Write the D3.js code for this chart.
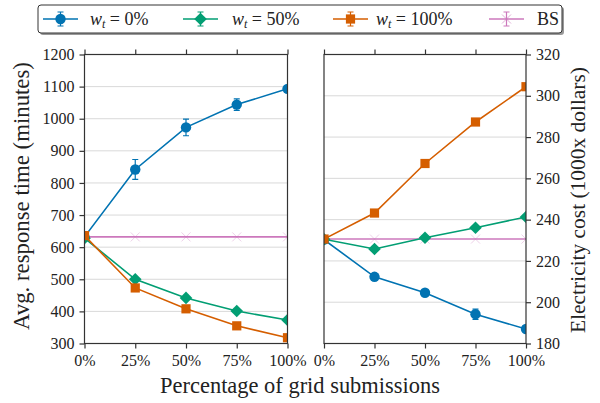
<!DOCTYPE html>
<html><head><meta charset="utf-8">
<script src="https://cdn.jsdelivr.net/npm/d3@7"></script>
<style>body{margin:0;background:#fff}svg{display:block}text{font-family:"Liberation Serif","DejaVu Serif",serif;fill:#222}</style>
</head><body><svg id="c" width="600" height="403"></svg>
<script>
const categories = ["0%","25%","50%","75%","100%"];
const xValues = [0,25,50,75,100];
// Left: avg response time (minutes)
const respW0 = [632, 842, 973, 1044, 1093];
const respW0Err = [6, 31, 26, 18, 8];
const respW50 = [628, 500, 442, 401, 373];
const respW50Err = [3, 4, 4, 4, 4];
const respW100 = [636, 473, 408, 355, 318];
const respW100Err = [3, 4, 4, 4, 3];
const respBS = [632, 632, 632, 632, 632];
// Right: electricity cost (1000x dollars)
const costW0 = [230.3, 212.3, 204.6, 194.2, 187.0];
const costW0Err = [0.5, 1.0, 1.0, 2.5, 1.2];
const costW50 = [230.5, 225.8, 231.2, 236.1, 241.3];
const costW50Err = [0.5, 0.8, 0.8, 0.8, 0.8];
const costW100 = [230.6, 243.2, 267.2, 287.3, 304.4];
const costW100Err = [0.5, 0.8, 0.8, 0.8, 0.8];
const costBS = [230.6, 230.6, 230.6, 230.6, 230.6];
const leftTicks = [300,400,500,600,700,800,900,1000,1100,1200];
const rightTicks = [180,200,220,240,260,280,300,320];

const colors = {w0:"#0173b2", w50:"#029e73", w100:"#d55e00", bs:"#cc78bc"};
const svg = d3.select("#c");
const axisColor = "#333";
const FONT = "Liberation Serif, DejaVu Serif, serif";

function fitText(sel, target, size){
  sel.style("font-size", size+"px");
  const w = sel.node().getComputedTextLength();
  sel.style("font-size", (size*target/w).toFixed(2)+"px");
}

function marker(g, type, x, y, color){
  if(type==="circle") g.append("circle").attr("cx",x).attr("cy",y).attr("r",5.2).attr("fill",color);
  else if(type==="diamond") g.append("path").attr("d",`M${x},${y-6.3}L${x+6.3},${y}L${x},${y+6.3}L${x-6.3},${y}Z`).attr("fill",color);
  else if(type==="square") g.append("rect").attr("x",x-4.6).attr("y",y-4.6).attr("width",9.2).attr("height",9.2).attr("fill",color);
  else if(type==="x") g.append("path").attr("d",`M${x-4.5},${y-4.5}L${x+4.5},${y+4.5}M${x-4.5},${y+4.5}L${x+4.5},${y-4.5}`).attr("stroke",color).attr("stroke-width",1).attr("opacity",0.35).attr("fill","none");
}

function panel(id, x0, x1, y0, y1, domain, ticks, series, side){
  const x = d3.scaleLinear().domain([0,100]).range([x0,x1]);
  const y = d3.scaleLinear().domain(domain).range([y1,y0]);
  const g = svg.append("g");
  g.append("g").selectAll("line").data(ticks).join("line")
    .attr("x1",x0).attr("x2",x1).attr("y1",d=>y(d)).attr("y2",d=>y(d))
    .attr("stroke","#d9d9d9").attr("stroke-width",1);
  svg.append("clipPath").attr("id","clip"+id).append("rect")
    .attr("x",x0).attr("y",y0).attr("width",x1-x0).attr("height",y1-y0);
  const pg = g.append("g").attr("clip-path",`url(#clip${id})`);
  const line = d3.line().x((d,i)=>x(xValues[i])).y(d=>y(d));
  series.forEach(s=>{
    pg.append("path").datum(s.values).attr("d",line).attr("fill","none")
      .attr("stroke",s.color).attr("stroke-width",1.6);
    s.values.forEach((v,i)=>{
      if(s.err){
        const e = s.err[i], cx = x(xValues[i]);
        pg.append("path").attr("d",`M${cx},${y(v-e)}V${y(v+e)}M${cx-3},${y(v-e)}H${cx+3}M${cx-3},${y(v+e)}H${cx+3}`)
          .attr("stroke",s.color).attr("stroke-width",1.2).attr("fill","none");
      }
      marker(pg, s.marker, x(xValues[i]), y(v), s.color);
    });
  });
  g.append("rect").attr("x",x0).attr("y",y0).attr("width",x1-x0).attr("height",y1-y0)
    .attr("fill","none").attr("stroke",axisColor).attr("stroke-width",1.2);
  const xb = d3.axisBottom(x).tickValues(xValues).tickFormat((d,i)=>categories[i]).tickSize(5).tickPadding(6);
  const gb = svg.append("g").attr("transform",`translate(0,${y1})`).call(xb);
  const xt = d3.axisTop(x).tickValues(xValues).tickFormat("").tickSize(5);
  const gt = svg.append("g").attr("transform",`translate(0,${y0})`).call(xt);
  let gy;
  const fmt = d3.format("d");
  if(side==="left"){
    gy = svg.append("g").attr("transform",`translate(${x0},0)`).call(d3.axisLeft(y).tickValues(ticks).tickFormat(fmt).tickSize(5).tickPadding(5));
  } else {
    gy = svg.append("g").attr("transform",`translate(${x1},0)`).call(d3.axisRight(y).tickValues(ticks).tickFormat(fmt).tickSize(5).tickPadding(5));
  }
  [gb,gt,gy].forEach(a=>{
    a.attr("font-family", FONT).attr("font-size", 16);
    a.select(".domain").remove();
    a.selectAll(".tick line").attr("stroke",axisColor).attr("stroke-width",1.2);
    a.selectAll(".tick text").attr("font-family", FONT).attr("font-size", 16).attr("fill","#222");
  });
  return {x,y};
}

panel("L", 84.5, 287.5, 54.5, 343.5, [300,1200], leftTicks, [
  {values:respBS, color:colors.bs, marker:"x"},
  {values:respW0, err:respW0Err, color:colors.w0, marker:"circle"},
  {values:respW50, err:respW50Err, color:colors.w50, marker:"diamond"},
  {values:respW100, err:respW100Err, color:colors.w100, marker:"square"}
], "left");

panel("R", 324, 526, 54.5, 343.5, [180,320], rightTicks, [
  {values:costBS, color:colors.bs, marker:"x"},
  {values:costW0, err:costW0Err, color:colors.w0, marker:"circle"},
  {values:costW50, err:costW50Err, color:colors.w50, marker:"diamond"},
  {values:costW100, err:costW100Err, color:colors.w100, marker:"square"}
], "right");

const yl = svg.append("text").attr("transform","translate(29,196) rotate(-90)").attr("text-anchor","middle")
  .text("Avg. response time (minutes)");
fitText(yl, 268, 20);
const yr = svg.append("text").attr("transform","translate(585,200) rotate(-90)").attr("text-anchor","middle")
  .text("Electricity cost (1000x dollars)");
fitText(yr, 266, 20);
const xl = svg.append("text").attr("x",300).attr("y",393).attr("text-anchor","middle")
  .text("Percentage of grid submissions");
fitText(xl, 280, 20);

const lg = svg.append("g");
lg.append("rect").attr("x",40).attr("y",7).attr("width",524).attr("height",28).attr("rx",3)
  .attr("fill","#999");
lg.append("rect").attr("x",38).attr("y",5).attr("width",524).attr("height",28).attr("rx",3)
  .attr("fill","#fff").attr("stroke","#333").attr("stroke-width",1);
const legendItems = [
  {lx:43, tx:90, color:colors.w0, marker:"circle", sub:true, label:" = 0%"},
  {lx:183, tx:232, color:colors.w50, marker:"diamond", sub:true, label:" = 50%"},
  {lx:333, tx:376, color:colors.w100, marker:"square", sub:true, label:" = 100%"},
  {lx:489, tx:537, color:colors.bs, marker:"x", sub:false, label:"BS"}
];
legendItems.forEach(it=>{
  const cy = 19, cx = it.lx+17.5;
  lg.append("line").attr("x1",it.lx).attr("x2",it.lx+35).attr("y1",cy).attr("y2",cy)
    .attr("stroke",it.color).attr("stroke-width",1.6);
  lg.append("path").attr("d",`M${cx},${cy-7}V${cy+7}M${cx-3},${cy-7}H${cx+3}M${cx-3},${cy+7}H${cx+3}`)
    .attr("stroke",it.color).attr("stroke-width",1.2).attr("fill","none");
  marker(lg, it.marker, cx, cy, it.color);
  if(it.marker==="x") lg.select("path:last-child").attr("opacity",0.6);
  const t = lg.append("text").attr("x",it.tx).attr("y",25).attr("font-family",FONT).style("font-size","18px");
  if(it.sub){
    t.append("tspan").style("font-style","italic").text("w");
    t.append("tspan").style("font-style","italic").style("font-size","12px").attr("dy",3).text("t");
    t.append("tspan").attr("dy",-3).text(it.label);
  } else t.text(it.label);
});
</script></body></html>
